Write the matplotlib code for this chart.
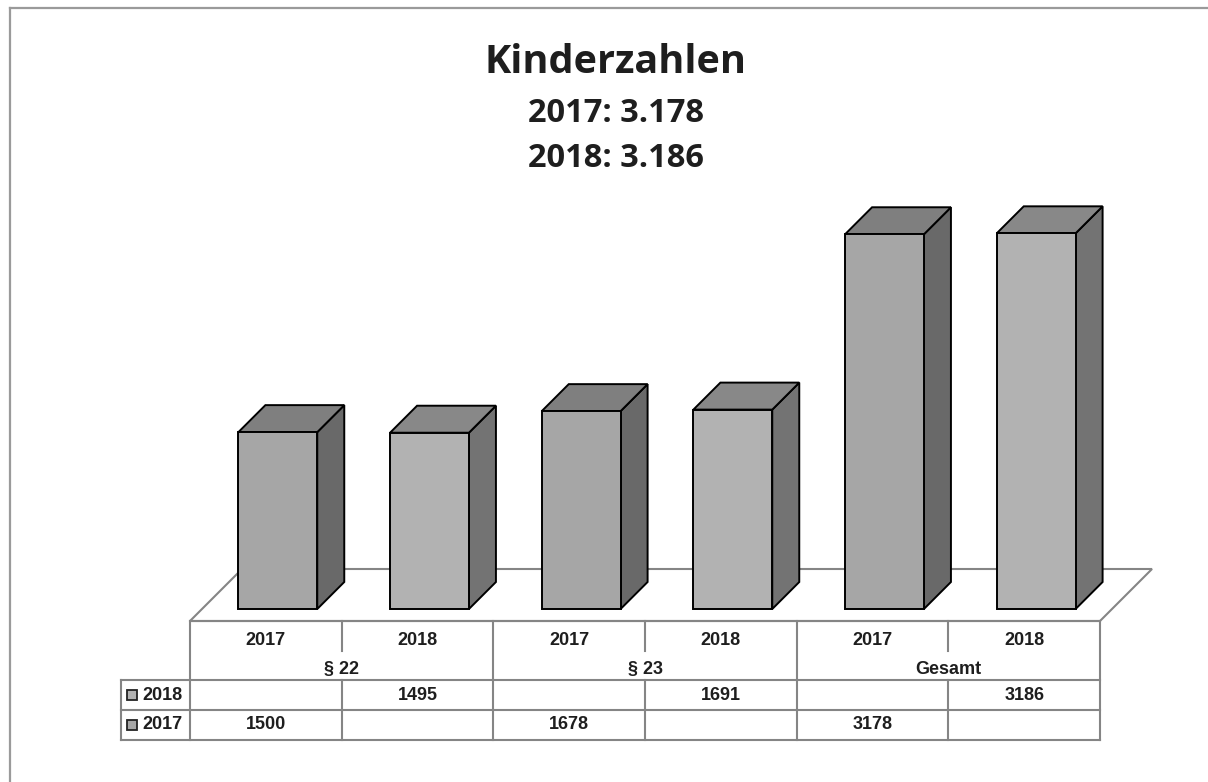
import matplotlib.pyplot as plt
from matplotlib.patches import Polygon, Rectangle
from matplotlib.lines import Line2D

# data
groups = ['§ 22', '§ 23', 'Gesamt']
years = ['2017', '2018']
values_2017 = [1500, 1678, 3178]
values_2018 = [1495, 1691, 3186]
title = 'Kinderzahlen'
subtitle = ['2017: 3.178', '2018: 3.186']

W, H = 1208, 782
front_col = {'2017': '#a6a6a6', '2018': '#b2b2b2'}
side_col = {'2017': '#696969', '2018': '#737373'}
top_col = {'2017': '#7f7f7f', '2018': '#888888'}
grid_col = '#858585'
txt_col = '#1e1e1e'


def fx(px):
    return px / W


def fy(py):
    return 1 - py / H


fig = plt.figure(figsize=(W / 100, H / 100), dpi=100)

# frame (only top and left are visible in the picture)
fig.add_artist(Line2D([fx(10), 1], [fy(8), fy(8)], color='#9a9a9a', lw=1.6))
fig.add_artist(Line2D([fx(10), fx(10)], [fy(8), 0], color='#9a9a9a', lw=1.6))

# titles
fig.text(fx(615), fy(73), title, ha='center', va='baseline',
         fontsize=28.5, fontweight='bold', family='Open Sans', color=txt_col)
fig.text(fx(616), fy(122), subtitle[0], ha='center', va='baseline',
         fontsize=23.5, fontweight='bold', family='Open Sans', color=txt_col)
fig.text(fx(616), fy(167), subtitle[1], ha='center', va='baseline',
         fontsize=23.5, fontweight='bold', family='Open Sans', color=txt_col)

# 3d chart area: x in category columns, y in values
floor_y0, top_y = 621, 180
ax = fig.add_axes([fx(190), fy(floor_y0), fx(1100) - fx(190), (floor_y0 - top_y) / H])
ncat = len(groups) * len(years)
ax.set_xlim(0, ncat)
ax.set_ylim(0, 3740)
ax.axis('off')

col_px = 910 / ncat
val_px = (floor_y0 - top_y) / 3740
depth_px = 52
dx = depth_px / col_px
dy = depth_px / val_px
f0, f1 = 12 / 52, 39 / 52
bw = 0.52

# floor
floor = Polygon([(0, 0), (ncat, 0), (ncat + dx, dy), (dx, dy)], closed=True,
                facecolor='white', edgecolor=grid_col, lw=1.5, clip_on=False, zorder=1)
ax.add_patch(floor)

cats, vals, series = [], [], []
for g in range(len(groups)):
    cats += [2 * g, 2 * g + 1]
    vals += [values_2017[g], values_2018[g]]
    series += ['2017', '2018']

for i, v, s in zip(cats, vals, series):
    x0 = i + 0.5 - bw / 2 + f0 * dx
    yb = f0 * dy
    ddx = (f1 - f0) * dx
    ddy = (f1 - f0) * dy
    ax.bar(x0, v, width=bw, bottom=yb, align='edge', color=front_col[s],
           edgecolor='black', lw=1.4, clip_on=False, zorder=3)
    side = Polygon([(x0 + bw, yb), (x0 + bw, yb + v), (x0 + bw + ddx, yb + v + ddy),
                    (x0 + bw + ddx, yb + ddy)], closed=True, facecolor=side_col[s],
                   edgecolor='black', lw=1.4, clip_on=False, zorder=2)
    top = Polygon([(x0, yb + v), (x0 + bw, yb + v), (x0 + bw + ddx, yb + v + ddy),
                   (x0 + ddx, yb + v + ddy)], closed=True, facecolor=top_col[s],
                  edgecolor='black', lw=1.4, clip_on=False, zorder=2)
    ax.add_patch(side)
    ax.add_patch(top)

# data table
leg_w = 69 / col_px
tab = fig.add_axes([fx(121), fy(739.5), fx(1100) - fx(121), 118.5 / H])
tab.set_xlim(-leg_w, ncat)
tab.set_ylim(118.5, 0)
tab.axis('off')

lk = dict(color=grid_col, lw=1.5, clip_on=False, solid_capstyle='projecting')
tab.plot([0, ncat], [0, 0], **lk)
tab.plot([-leg_w, ncat], [59, 59], **lk)
tab.plot([-leg_w, ncat], [88.5, 88.5], **lk)
tab.plot([-leg_w, ncat], [118.5, 118.5], **lk)
tab.plot([-leg_w, -leg_w], [59, 118.5], **lk)
for i in range(ncat + 1):
    if i % 2 == 0:
        tab.plot([i, i], [0, 118.5], **lk)
    else:
        tab.plot([i, i], [0, 30], **lk)
        tab.plot([i, i], [59, 118.5], **lk)

tf = dict(ha='center', va='center', fontsize=13, fontweight='bold',
          family='Liberation Sans', color=txt_col)
for i, s in zip(cats, series):
    tab.text(i + 0.5, 19.5, s, **tf)
for g, name in enumerate(groups):
    tab.text(2 * g + 1, 49, name, **tf)

row_y = {'2018': 74, '2017': 103.5}
for i, v, s in zip(cats, vals, series):
    tab.text(i + 0.5, row_y[s], str(v), **tf)

mk = 10 / col_px
for s in ['2018', '2017']:
    tab.add_patch(Rectangle((-leg_w + 6 / col_px, row_y[s] - 5), mk, 10,
                            facecolor=front_col[s], edgecolor='#222222', lw=1.3,
                            clip_on=False))
    tab.text(-leg_w + 21 / col_px, row_y[s], s, ha='left', va='center', fontsize=13,
             fontweight='bold', family='Liberation Sans', color=txt_col)

fig.savefig('out.png', dpi=100)
